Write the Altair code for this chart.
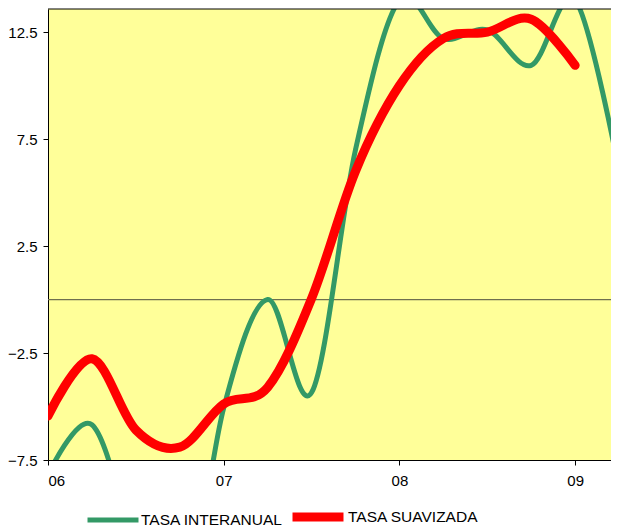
import json
import altair as alt
import pandas as pd

# ---- data ----
quarters = [2006.0, 2006.25, 2006.5, 2006.75, 2007.0, 2007.25, 2007.5, 2007.75,
            2008.0, 2008.25, 2008.5, 2008.75, 2009.0, 2009.25]
tasa_interanual = [-8.2, -5.85, -11.5, -15.5, -5.06, 0.0, -4.35, 7.0,
                   14.0, 12.2, 12.6, 10.95, 14.0, 6.0]
quarters_suav = [2006.0, 2006.25, 2006.5, 2006.75, 2007.0, 2007.25, 2007.5, 2007.75,
                 2008.0, 2008.25, 2008.5, 2008.75, 2009.0]
tasa_suavizada = [-5.44, -2.77, -6.1, -6.9, -4.88, -4.1, 0.05, 6.0,
                  10.0, 12.2, 12.5, 13.1, 10.95]

series_names = ["TASA INTERANUAL", "TASA SUAVIZADA"]
series_colors = ["#339966", "#FF0000"]
series_widths = [5, 9]

year_ticks = [2006, 2007, 2008, 2009]
year_labels = ["06", "07", "08", "09"]
y_ticks = [-7.5, -2.5, 2.5, 7.5, 12.5]

# ---- table ----
rows = []
for t, v in zip(quarters, tasa_interanual):
    rows.append({"t": t, "value": v, "series": series_names[0], "k": 0})
for t, v in zip(quarters_suav, tasa_suavizada):
    rows.append({"t": t, "value": v, "series": series_names[1], "k": 1})
df = pd.DataFrame(rows)

W, H = 563, 451
FONT = "Liberation Sans"

label_expr = json.dumps(year_labels) + "[datum.value - " + str(year_ticks[0]) + "]"

x_enc = alt.X("t:Q",
              scale=alt.Scale(domain=[2006, 2009.204], nice=False, zero=False),
              axis=alt.Axis(values=year_ticks, labelExpr=label_expr, title=None,
                            grid=False, tickSize=5, labelPadding=8))
y_enc = alt.Y("value:Q",
              scale=alt.Scale(domain=[-7.5, 13.58], nice=False, zero=False),
              axis=alt.Axis(values=y_ticks, format=".1f", title=None,
                            grid=False, tickSize=5, labelPadding=6))

lines = alt.Chart(df).mark_line(
    interpolate="cardinal", tension=0, clip=True, strokeCap="round", strokeJoin="round"
).encode(
    x=x_enc,
    y=y_enc,
    color=alt.Color("series:N",
                    scale=alt.Scale(domain=series_names, range=series_colors),
                    legend=alt.Legend(title=None)),
    strokeWidth=alt.StrokeWidth("series:N",
                                scale=alt.Scale(domain=series_names, range=series_widths),
                                legend=alt.Legend(title=None)),
    order=alt.Order("t:Q"),
)

zero_line = alt.Chart(pd.DataFrame({"y": [0]})).mark_rule(
    color="#6f6f4f", strokeWidth=1.2
).encode(y=alt.Y("y:Q"))

top_border = alt.Chart(pd.DataFrame({"a": [0]})).mark_rule(
    color="black", strokeWidth=1
).encode(x=alt.value(0), x2=alt.value(W), y=alt.value(0))

chart = alt.layer(zero_line, lines, top_border).properties(
    width=W, height=H,
    autosize=alt.AutoSizeParams(type="none"),
    padding={"left": 40, "top": 1, "right": 0, "bottom": 72},
).configure_view(
    stroke=None, fill="#FFFF99"
).configure_axis(
    domainColor="black", tickColor="black", labelColor="black",
    labelFont=FONT, labelFontSize=15, domainWidth=1, tickWidth=1,
).configure_legend(
    orient="none", legendX=37, legendY=478, direction="horizontal",
    symbolType="stroke", symbolSize=2600, labelFont=FONT, labelFontSize=15.5,
    labelColor="black", labelOffset=0, columnPadding=-9, padding=0,
    symbolStrokeWidth=6,
)

chart.save("out.html", embed_options={"renderer": "svg", "actions": False})
